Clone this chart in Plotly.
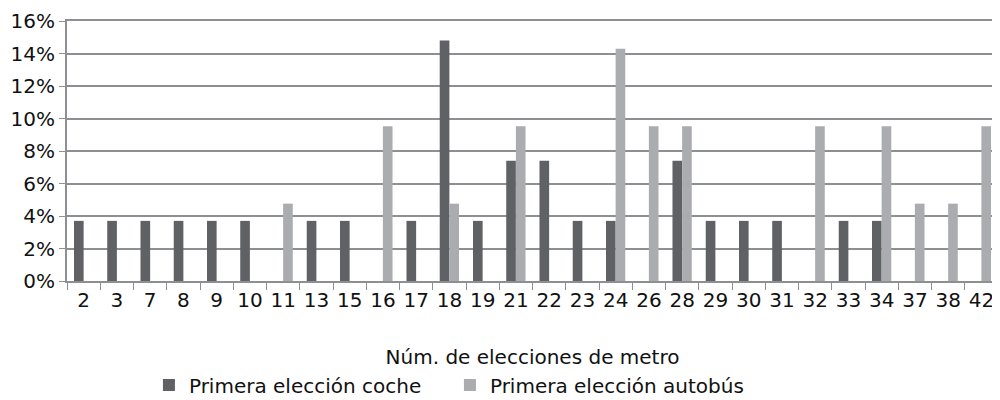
import plotly.graph_objects as go

categories = ["2", "3", "7", "8", "9", "10", "11", "13", "15", "16", "17", "18", "19", "21",
              "22", "23", "24", "26", "28", "29", "30", "31", "32", "33", "34", "37", "38", "42"]
coche = [0.037, 0.037, 0.037, 0.037, 0.037, 0.037, None, 0.037, 0.037, None, 0.037, 0.148, 0.037, 0.074,
         0.074, 0.037, 0.037, None, 0.074, 0.037, 0.037, 0.037, None, 0.037, 0.037, None, None, None]
autobus = [None, None, None, None, None, None, 0.0476, None, None, 0.0952, None, 0.0476, None, 0.0952,
           None, None, 0.1429, 0.0952, 0.0952, None, None, None, 0.0952, None, 0.0952, 0.0476, 0.0476, 0.0952]
y_ticks = [0, 0.02, 0.04, 0.06, 0.08, 0.10, 0.12, 0.14, 0.16]

FONT = "DejaVu Sans"
GRID = "#8e8f93"
TXT = "#111111"

fig = go.Figure()
fig.add_trace(go.Bar(x=categories, y=coche, name="Primera elección coche",
                     marker=dict(color="#606165", line=dict(width=0))))
fig.add_trace(go.Bar(x=categories, y=autobus, name="Primera elección autobús",
                     marker=dict(color="#aaacaf", line=dict(width=0))))

fig.update_layout(
    width=992, height=392,
    margin=dict(l=59, r=2, t=13, b=119, autoexpand=False),
    paper_bgcolor="white", plot_bgcolor="white",
    barmode="group", bargap=0.42, bargroupgap=0,
    font=dict(family=FONT, size=20, color=TXT),
    showlegend=True,
    legend=dict(orientation="h", x=0.088, xanchor="left", y=-0.4, yanchor="middle",
                font=dict(family=FONT, size=20, color=TXT),
                itemwidth=30, tracegroupgap=0, entrywidth=256, entrywidthmode="pixels"),
    xaxis=dict(type="category", tickangle=0, showgrid=False, automargin=False,
               showline=True, linecolor=GRID, linewidth=2, mirror=True,
               ticks="outside", tickson="boundaries", ticklen=7, tickcolor=GRID, tickwidth=1,
               tickfont=dict(family=FONT, size=20, color=TXT),
               title=dict(text="Núm. de elecciones de metro", standoff=39,
                          font=dict(family=FONT, size=20, color=TXT))),
    yaxis=dict(range=[0, 0.16], tickvals=y_ticks, tickformat=".0%", automargin=False,
               ticklabeloverflow="allow",
               showgrid=True, gridcolor=GRID, gridwidth=2, zeroline=False,
               showline=True, linecolor=GRID, linewidth=2,
               ticks="outside", ticklen=6, tickcolor=GRID, tickwidth=1,
               tickfont=dict(family=FONT, size=20, color=TXT)),
)

fig.write_html("out.html")
